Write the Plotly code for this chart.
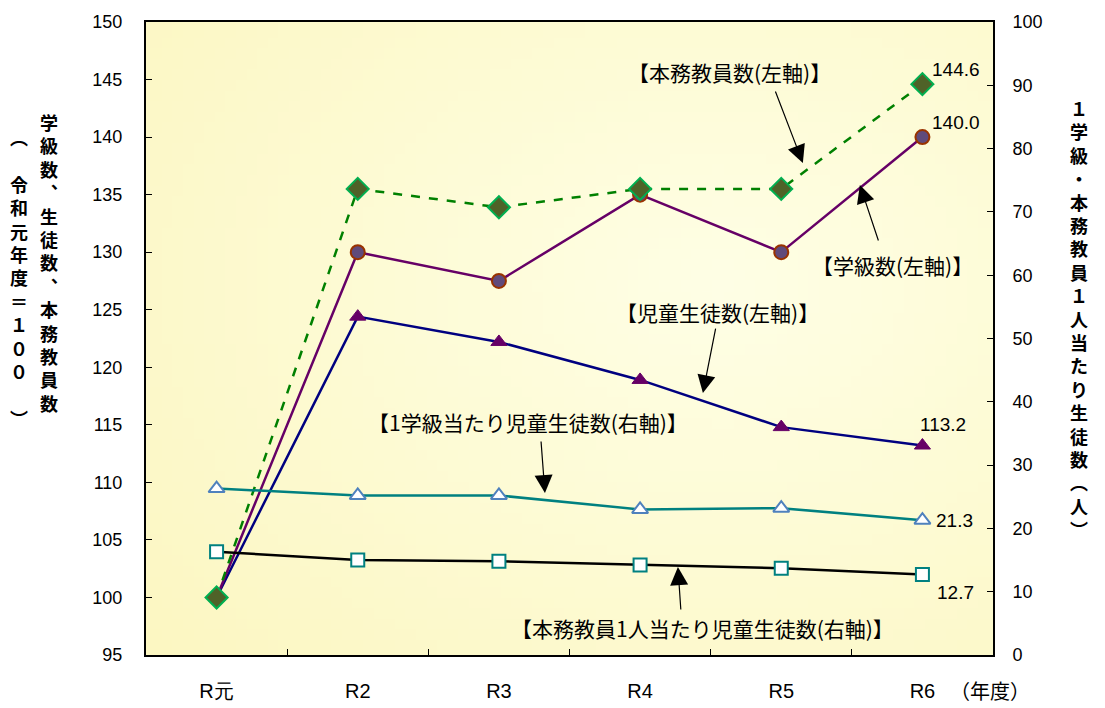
import base64
import struct
import zlib

import plotly.graph_objects as go

# data
years = ['R元', 'R2', 'R3', 'R4', 'R5', 'R6']
teachers = [100, 135.5, 133.9, 135.5, 135.5, 144.6]      # 本務教員数 (left)
classes = [100, 130.0, 127.5, 135.0, 130.0, 140.0]       # 学級数 (left)
students = [100, 124.4, 122.2, 118.9, 114.8, 113.2]      # 児童生徒数 (left)
per_class = [26.3, 25.2, 25.2, 23.0, 23.2, 21.3]         # 1学級当たり児童生徒数 (right)
per_teacher = [16.3, 15.0, 14.8, 14.2, 13.7, 12.7]       # 本務教員1人当たり児童生徒数 (right)

JP = 'Noto Sans CJK JP'
NUM = 'Liberation Sans, Arial'


def gradient_png(w=80, h=60):
    # soft radial yellow gradient for the plot background
    rows = []
    for j in range(h):
        row = bytearray([0])
        for i in range(w):
            dx = (i / (w - 1) - 0.68) / 0.9
            dy = (j / (h - 1) - 0.42) / 0.9
            t = min(1.0, (dx * dx + dy * dy) ** 0.5)
            row += bytes([int(255 - 3 * t), int(255 - 8 * t), int(230 - 36 * t)])
        rows.append(bytes(row))

    def chunk(tag, data):
        return struct.pack('>I', len(data)) + tag + data + struct.pack('>I', zlib.crc32(tag + data) & 0xffffffff)

    png = b'\x89PNG\r\n\x1a\n'
    png += chunk(b'IHDR', struct.pack('>IIBBBBB', w, h, 8, 2, 0, 0, 0))
    png += chunk(b'IDAT', zlib.compress(b''.join(rows)))
    png += chunk(b'IEND', b'')
    return 'data:image/png;base64,' + base64.b64encode(png).decode()


fig = go.Figure()

fig.add_trace(go.Scatter(
    x=years, y=per_teacher, yaxis='y2', mode='lines+markers',
    line=dict(color='black', width=2.5),
    marker=dict(symbol='square', size=13, color='white', line=dict(color='#008080', width=2))))
fig.add_trace(go.Scatter(
    x=years, y=per_class, yaxis='y2', mode='lines+markers',
    line=dict(color='#008080', width=2.5),
    marker=dict(symbol='triangle-up', size=14, color='white', line=dict(color='#4F81BD', width=2))))
fig.add_trace(go.Scatter(
    x=years, y=students, mode='lines+markers',
    line=dict(color='#000080', width=2.5),
    marker=dict(symbol='triangle-up', size=14, color='#660066', line=dict(color='#660066', width=1))))
fig.add_trace(go.Scatter(
    x=years, y=classes, mode='lines+markers',
    line=dict(color='#660066', width=2.5),
    marker=dict(symbol='circle', size=14, color='#604A7B', line=dict(color='#993300', width=2))))
fig.add_trace(go.Scatter(
    x=years, y=teachers, mode='lines+markers',
    line=dict(color='#008000', width=2.5, dash='dash'),
    marker=dict(symbol='diamond', size=17, color='#4F6228', line=dict(color='#00B050', width=2))))

ann = []
# value labels at the last year
last = years[-1]
ann.append(dict(x=last, y=teachers[-1], text=f'{teachers[-1]:.1f}', xanchor='left', xshift=8, yshift=15))
ann.append(dict(x=last, y=classes[-1], text=f'{classes[-1]:.1f}', xanchor='left', xshift=8, yshift=15))
ann.append(dict(x=last, y=students[-1], text=f'{students[-1]:.1f}', xanchor='center', xshift=21, yshift=21))
ann.append(dict(x=last, y=per_class[-1], yref='y2', text=f'{per_class[-1]:.1f}', xanchor='left', xshift=12))
ann.append(dict(x=last, y=per_teacher[-1], yref='y2', text=f'{per_teacher[-1]:.1f}', xanchor='left', xshift=13, yshift=-18))
for a in ann:
    a.update(showarrow=False, font=dict(family=NUM, size=19, color='black'))

# callout labels and arrows
callouts = [
    ('【本務教員数(左軸)】', 3.63, 145.66, 4.153, 137.75, -28, -73),
    ('【学級数(左軸)】', 4.79, 128.89, 4.557, 135.84, 19, 57),
    ('【児童生徒数(左軸)】', 3.551, 124.8, 3.445, 117.76, 13, -66),
    ('【1学級当たり児童生徒数(右軸)】', 2.205, 115.24, 2.326, 109.07, -4, -53),
    ('【本務教員1人当たり児童生徒数(右軸)】', 3.445, 97.34, 3.268, 102.64, 3, 44),
]
for text, tx, ty, hx, hy, ax, ay in callouts:
    ann.append(dict(x=tx, y=ty, text=text, showarrow=False,
                    font=dict(family=JP, size=21, color='black')))
    ann.append(dict(x=hx, y=hy, text='', showarrow=True, ax=ax, ay=ay,
                    arrowhead=2, arrowsize=3, arrowwidth=1.2, arrowcolor='black'))

# axis titles written vertically
left1 = list('学級数︑生徒数︑本務教員数')
left2 = ['︵', '\u3000'] + list('令和元年度＝１００') + ['\u3000', '︶']
right = list('１学級・本務教員１人当たり生徒数︵人︶')
tfont = dict(family=JP, size=18, color='black')
ann.append(dict(x=49, y=263, text='<b>' + '<br>'.join(left1) + '</b>'))
ann.append(dict(x=19, y=277, text='<b>' + '<br>'.join(left2) + '</b>'))
ann.append(dict(x=1079, y=318, text='<b>' + '<br>'.join(right) + '</b>'))
for a in ann[-3:]:
    # convert pixel positions to paper fractions
    a['x'] = (a['x'] - 146) / 847
    a['y'] = (655 - a['y']) / 633
    a.update(xref='paper', yref='paper', showarrow=False, font=tfont,
             xanchor='center', yanchor='middle')

ann.append(dict(x=(990 - 146) / 847, y=(655 - 690) / 633, xref='paper', yref='paper',
                text='（年度）', showarrow=False, xanchor='center', yanchor='middle',
                font=dict(family=JP, size=20, color='black')))

# the page puts the figure 8px in from the top-left corner
fig.update_layout(
    width=1097, height=700,
    margin=dict(l=138, r=112, t=14, b=53),
    paper_bgcolor='white',
    plot_bgcolor='#FFFCD0',
    showlegend=False,
    annotations=ann,
    images=[dict(source=gradient_png(), xref='paper', yref='paper', x=0, y=1,
                 sizex=1, sizey=1, sizing='stretch', xanchor='left', yanchor='top',
                 layer='below')],
    xaxis=dict(type='category', categoryorder='array', categoryarray=years,
               range=[-0.5, 5.5], tickson='boundaries', ticks='inside', ticklen=6,
               tickcolor='black', showgrid=False, zeroline=False, automargin=False,
               showline=True, linecolor='black', linewidth=2, mirror=True,
               ticklabelstandoff=17,
               tickfont=dict(family=NUM, size=20, color='black')),
    yaxis=dict(range=[95, 150], dtick=5, ticks='inside', ticklen=6, tickcolor='black',
               showgrid=False, zeroline=False, showline=True, linecolor='black',
               linewidth=2, mirror=True, ticklabelstandoff=18, automargin=False,
               tickfont=dict(family=NUM, size=18, color='black')),
    yaxis2=dict(range=[0, 100], dtick=10, overlaying='y', side='right',
                ticks='inside', ticklen=6, tickcolor='black', showgrid=False,
                zeroline=False, showline=True, linecolor='black', linewidth=2,
                ticklabelstandoff=14, automargin=False,
                tickfont=dict(family=NUM, size=18, color='black')),
)

fig.write_html('out.html')
